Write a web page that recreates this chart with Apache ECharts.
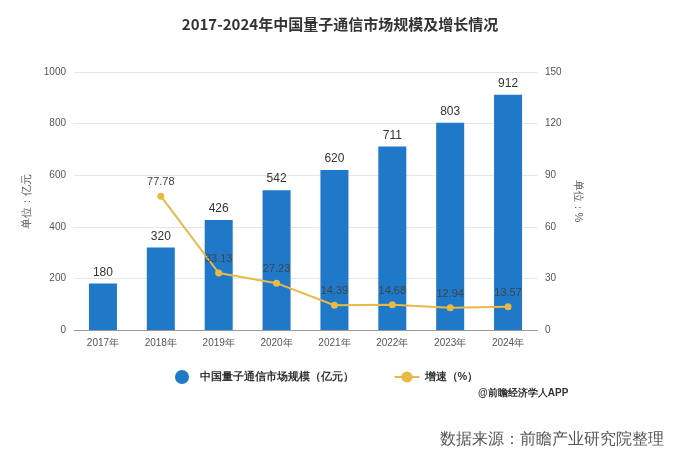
<!DOCTYPE html>
<html><head><meta charset="utf-8">
<script src="https://cdn.jsdelivr.net/npm/echarts@6/dist/echarts.min.js"></script>
<style>body{margin:0;background:#fff}#c{width:680px;height:461px}</style>
</head><body><div id="c"></div>
<script>
const categories=['2017年','2018年','2019年','2020年','2021年','2022年','2023年','2024年'];
const marketSize=[180,320,426,542,620,711,803,912];
const growth=[null,77.78,33.13,27.23,14.39,14.68,12.94,13.57];
const chart=echarts.init(document.getElementById('c'));
chart.setOption({
  title:{text:'2017-2024年中国量子通信市场规模及增长情况',left:'center',top:12,textStyle:{fontSize:15,fontWeight:'bold',color:'#333',fontFamily:'Noto Sans CJK SC'}},
  grid:{left:74,right:143,top:72,bottom:131},
  legend:{bottom:72,left:170,itemGap:40,textStyle:{fontSize:11,fontWeight:'bold',color:'#333'},data:[{name:'中国量子通信市场规模（亿元）',icon:'circle'},{name:'增速（%）'}]},
  graphic:[
    {type:'text',left:478,top:388,style:{text:'@前瞻经济学人APP',fontSize:10,fontWeight:'bold',fill:'#333'}},
    {type:'text',right:16,top:432,style:{text:'数据来源：前瞻产业研究院整理',fontSize:16,fill:'#555'}}
  ],
  xAxis:{type:'category',data:categories,axisTick:{show:false},axisLine:{lineStyle:{color:'#999'}},axisLabel:{fontSize:10,color:'#555'}},
  yAxis:[
    {type:'value',min:0,max:1000,interval:200,name:'单位：亿元',nameLocation:'middle',nameGap:42,nameRotate:90,nameTextStyle:{fontSize:11,color:'#555'},axisLabel:{fontSize:10,color:'#555',formatter:v=>String(v)},splitLine:{lineStyle:{color:'#e6e6e6'}}},
    {type:'value',min:0,max:150,interval:30,name:'单位：%',nameLocation:'middle',nameGap:34,nameRotate:-90,nameTextStyle:{fontSize:11,color:'#555'},axisLabel:{fontSize:10,color:'#555'},splitLine:{show:false}}
  ],
  series:[
    {name:'中国量子通信市场规模（亿元）',type:'bar',data:marketSize,barWidth:28,itemStyle:{color:'#1f78c8'},label:{show:true,position:'top',fontSize:12,color:'#333'}},
    {name:'增速（%）',type:'line',yAxisIndex:1,data:growth,symbol:'circle',symbolSize:7,itemStyle:{color:'#e9b945'},lineStyle:{color:'#e9b945',width:2},label:{show:true,position:'top',fontSize:11,color:'#444'}}
  ]
});
</script></body></html>
